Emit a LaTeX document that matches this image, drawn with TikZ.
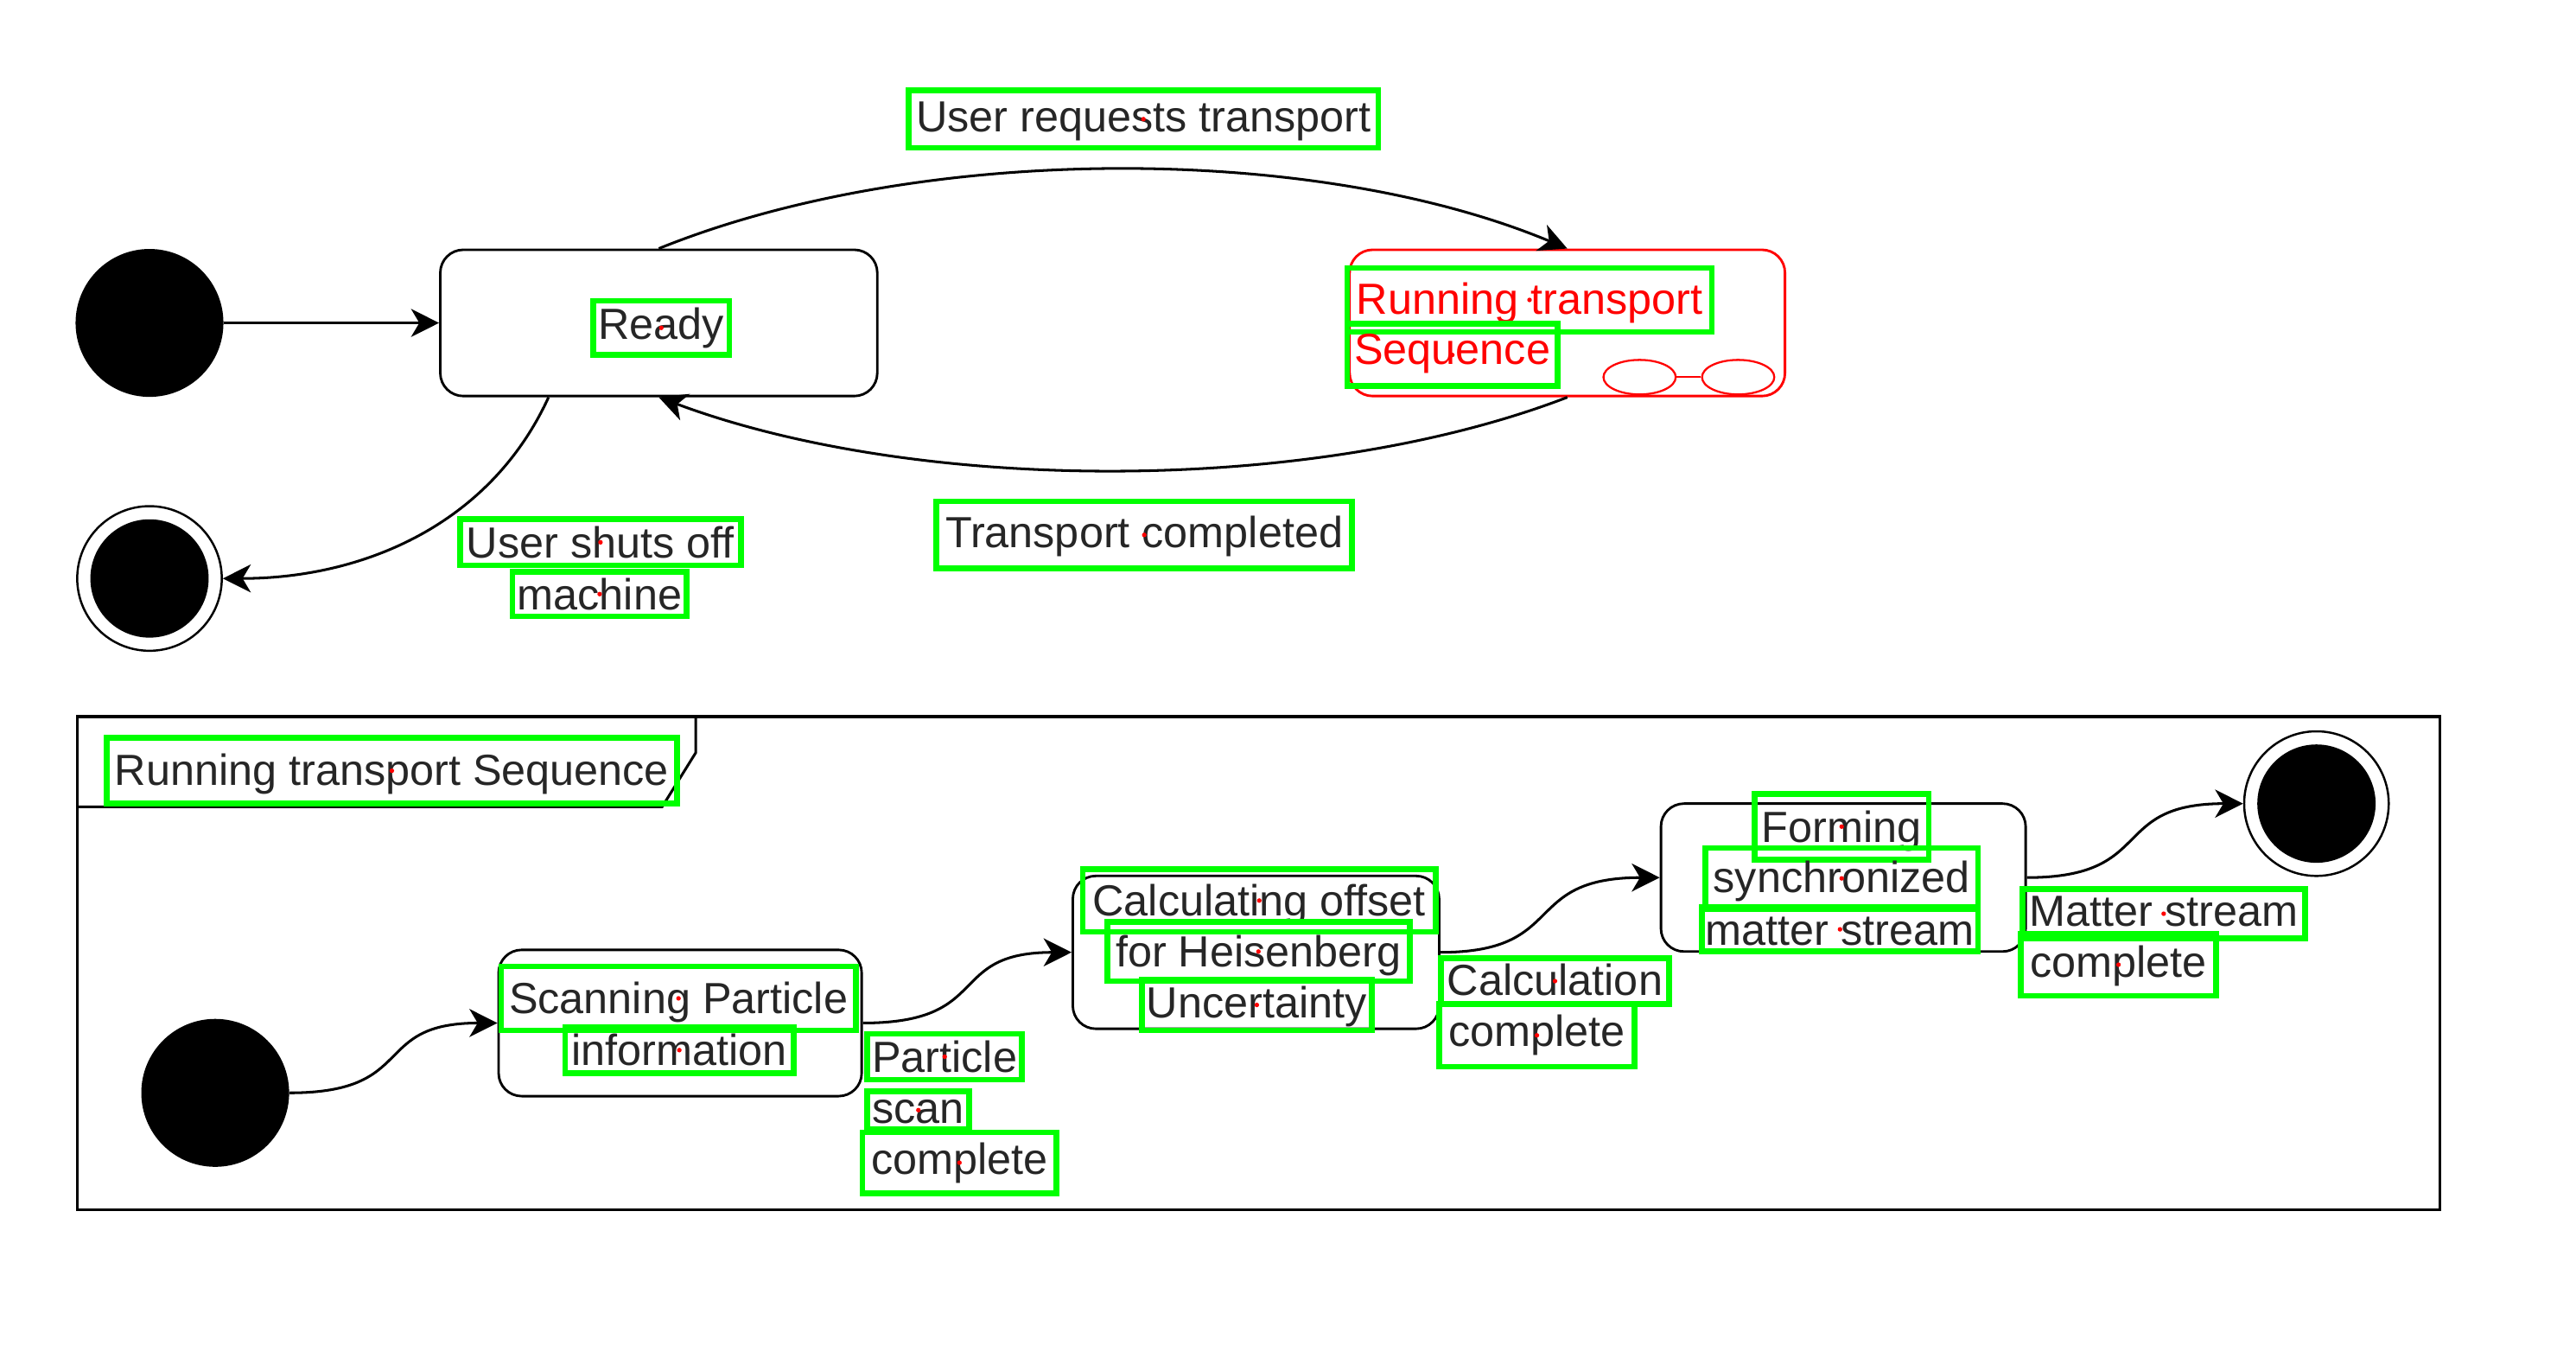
\documentclass[tikz,border=0pt]{standalone}
\usepackage{fontspec}
\setmainfont{Liberation Sans}
\usetikzlibrary{arrows.meta,shapes.geometric}
\newcommand{\nudge}[2]{\raisebox{#1}[\height][\depth]{#2}}
\tikzset{
	statebox/.style={draw,rounded corners=14pt,line width=1.5pt,minimum width=#1,minimum height=89pt,inner sep=0pt},
	startdot/.style={circle,fill=black,minimum size=90pt,inner sep=0pt},
	endring/.style={circle,draw,line width=1.3pt,fill=white,minimum size=88pt,inner sep=0pt},
	enddot/.style={circle,fill=black,minimum size=72pt,inner sep=0pt},
	trans/.style={line width=1.6pt,-{Stealth[length=17pt,width=17pt,inset=5pt]}},
	lbl/.style={draw=green,line width=3.5pt,inner sep=0pt,text=black!85,font=\fontsize{26.5}{30}\selectfont},
}

\begin{document}
\begin{tikzpicture}[x=1pt,y=-1pt]
	\useasboundingbox (0,0) rectangle (1568,826);

	%% Upper machine
	\node[startdot] (init) at (91,196.5) {};
	\node[statebox=266pt] (ready) at (401,196.5) {};
	\node[statebox=265pt,draw=red] (running) at (954,196.5) {};
	\node[endring] (final) at (91,352) {};
	\node[enddot] at (final) {};

	% Composite mark of the red state
	\node[ellipse,draw=red,line width=1.2pt,minimum width=44pt,minimum height=21pt,inner sep=0pt] (capa) at (998,229.5) {};
	\node[ellipse,draw=red,line width=1.2pt,minimum width=44pt,minimum height=21pt,inner sep=0pt] (capb) at (1058,229.5) {};
	\draw[red,line width=1.2pt] (capa) -- (capb);

	\draw[trans] (init) -- (ready);
	\draw[trans] (ready.north) .. controls (560,87) and (800,87) .. (running.north);
	\draw[trans] (running.south) .. controls (800,301) and (560,301) .. (ready.south);
	\draw[trans] (ready.214) .. controls (298,320) and (220,352) .. (final.east);

	%% Lower frame
	\draw[line width=1.8pt] (47,436) rectangle (1485,736);
	\draw[line width=1.6pt] (47,491) -- (403,491) -- (423.5,458) -- (423.5,436);

	\node[startdot] (inittwo) at (131,665) {};
	\node[statebox=221pt] (scanning) at (414,622.5) {};
	\node[statebox=223pt,minimum height=93pt] (offset) at (764.5,579.5) {};
	\node[statebox=222pt,minimum height=90pt] (forming) at (1122,534) {};
	\node[endring] (finaltwo) at (1410,489) {};
	\node[enddot] at (finaltwo) {};

	\draw[trans] (inittwo.east) .. controls (255,665) and (225,622.5) .. (scanning.west);
	\draw[trans] (scanning.east) .. controls (605,622.5) and (575,579.5) .. (offset.west);
	\draw[trans] (offset.east) .. controls (955,579.5) and (925,534) .. (forming.west);
	\draw[trans] (forming.east) .. controls (1313,534) and (1283,489) .. (finaltwo.west);

	%% Text lines, upper machine
	\node[lbl,minimum width=286pt,minimum height=35pt] (reqlbl) at (696,72.5) {\nudge{-1.5pt}{User requests transport}};
	\node[lbl,minimum width=83pt,minimum height=33pt] (readylbl) at (402.5,199.5) {Ready};
	\node[lbl,minimum width=222pt,minimum height=39pt,text=red] (runlbl) at (931,182.5) {\nudge{-2pt}{Running transport}};
	\node[lbl,minimum width=128pt,minimum height=38pt,text=red] (seqlbl) at (884,216) {\nudge{1pt}{Sequence}};
	\node[lbl,minimum width=253pt,minimum height=41pt] (donelbl) at (696.5,325.5) {\nudge{-1pt}{Transport completed}};
	\node[lbl,minimum width=171pt,minimum height=28pt] (offlbl) at (365.5,330) {User shuts off};
	\node[lbl,minimum width=106pt,minimum height=27pt] (machlbl) at (365,361.5) {machine};

	%% Text lines, lower frame
	\node[lbl,minimum width=347pt,minimum height=40pt] (framelbl) at (238.5,469) {\nudge{-2pt}{Running transport Sequence}};
	\node[lbl,minimum width=216pt,minimum height=39pt] (scanlbl) at (413,607.5) {\nudge{-2.5pt}{Scanning Particle}};
	\node[lbl,minimum width=139pt,minimum height=28pt] (infolbl) at (413.5,639) {information};
	\node[lbl,minimum width=94pt,minimum height=28pt] (partlbl) at (575,643) {Particle};
	\node[lbl,minimum width=62pt,minimum height=23pt] (scnlbl) at (559,675.5) {\nudge{-1pt}{scan}};
	\node[lbl,minimum width=118pt,minimum height=37pt] (cplalbl) at (584,707.5) {complete};
	\node[lbl,minimum width=215pt,minimum height=38pt] (calclbl) at (766.5,548) {\nudge{-2.5pt}{Calculating offset}};
	\node[lbl,minimum width=184pt,minimum height=36pt] (heislbl) at (766,579) {\nudge{-2.5pt}{for Heisenberg}};
	\node[lbl,minimum width=140pt,minimum height=31pt] (unclbl) at (765,611.5) {\nudge{-1pt}{Uncertainty}};
	\node[lbl,minimum width=139pt,minimum height=28pt] (cclbl) at (946.5,597) {\nudge{1pt}{Calculation}};
	\node[lbl,minimum width=119pt,minimum height=38pt] (cplblbl) at (935.5,630) {complete};
	\node[lbl,minimum width=106pt,minimum height=40pt] (formlbl) at (1121,503) {\nudge{-2.5pt}{Forming}};
	\node[lbl,minimum width=166pt,minimum height=37pt] (synclbl) at (1121,534.5) {\nudge{-2pt}{synchronized}};
	\node[lbl,minimum width=168pt,minimum height=27pt] (matlbl) at (1120,565.5) {\nudge{-1pt}{matter stream}};
	\node[lbl,minimum width=172pt,minimum height=30pt] (mslbl) at (1317,556) {\nudge{1.5pt}{Matter stream}};
	\node[lbl,minimum width=119pt,minimum height=38pt] (cplclbl) at (1289.5,587) {\nudge{-1pt}{complete}};

	% Centre marks of the text frames
	\foreach \n in {reqlbl,readylbl,runlbl,seqlbl,donelbl,offlbl,machlbl,framelbl,scanlbl,infolbl,partlbl,scnlbl,cplalbl,calclbl,heislbl,unclbl,cclbl,cplblbl,formlbl,synclbl,matlbl,mslbl,cplclbl}
		\fill[red] (\n.center) circle (1.4pt);
\end{tikzpicture}
\end{document}
